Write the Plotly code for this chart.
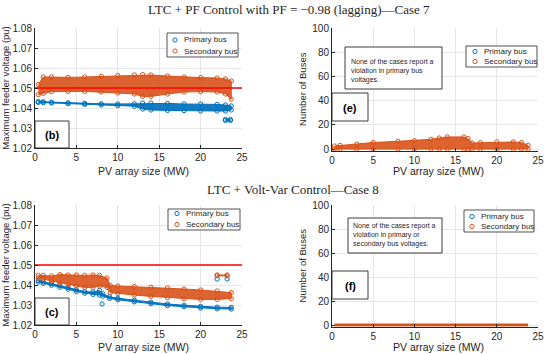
import plotly.graph_objects as go

W, H = 550, 354
BLUE = '#0072BD'
ORANGE = '#D95319'
BLUE_FILL = 'rgba(0,114,189,0.92)'
ORANGE_FILL = 'rgba(217,83,25,0.9)'
INK = '#262626'
GRID = '#e6e6e6'
SANS = 'Liberation Sans, Arial, sans-serif'
SERIF = 'Liberation Serif, Times New Roman, serif'

# ---------------- data ----------------
title_top = "LTC + PF Control with PF = −0.98 (lagging)—Case 7"
title_bottom = "LTC + Volt-Var Control—Case 8"
x_title = "PV array size (MW)"
volt_title = "Maximum feeder voltage (pu)"
bus_title = "Number of Buses"
series_names = ["Primary bus", "Secondary bus"]
panel_tags = ["(b)", "(e)", "(c)", "(f)"]
note_e = ["None of the cases report a", "violation in primary bus", "voltages."]
note_f = ["None of the cases report a", "violation in primary or", "secondary bus voltages."]

x_ticks = [0, 5, 10, 15, 20, 25]
volt_ticks = [1.02, 1.03, 1.04, 1.05, 1.06, 1.07, 1.08]
bus_ticks = [0, 20, 40, 60, 80, 100]

limit_x = [0, 25]
limit_pu = [1.05, 1.05]

# (b) Case 7 maximum voltages: envelope of point centres
x_b = [0.4, 1, 2, 4, 6, 8, 10, 12, 13, 14, 16, 18, 20, 22, 23, 23.7]
b_sec_hi = [1.0517, 1.0555, 1.0555, 1.0553, 1.0555, 1.0558, 1.0562, 1.0565, 1.0567, 1.0565, 1.0560, 1.0555, 1.0552, 1.0550, 1.0545, 1.0535]
b_sec_lo = [1.0467, 1.0473, 1.0482, 1.0483, 1.0483, 1.0480, 1.0475, 1.0470, 1.0458, 1.0458, 1.0470, 1.0480, 1.0482, 1.0480, 1.0470, 1.0445]
b_pri_hi = [1.0432, 1.0431, 1.0429, 1.0426, 1.0423, 1.0421, 1.0420, 1.0421, 1.0425, 1.0425, 1.0423, 1.0420, 1.0420, 1.0418, 1.0415, 1.0410]
b_pri_lo = [1.0428, 1.0427, 1.0425, 1.0421, 1.0418, 1.0415, 1.0412, 1.0409, 1.0395, 1.0390, 1.0388, 1.0387, 1.0385, 1.0385, 1.0385, 1.0390]
x_b_cluster = [23.0, 23.6]
b_pri_cluster_hi = [1.0342, 1.0342]
b_pri_cluster_lo = [1.0338, 1.0338]

# (c) Case 8 maximum voltages
x_c_pri = [0.4, 1, 2, 3, 4, 5, 6, 7, 7.8, 8.2, 9, 10, 12, 14, 16, 18, 20, 22, 23.7]
c_pri_hi = [1.0423, 1.0416, 1.0407, 1.0397, 1.0387, 1.0376, 1.0367, 1.0365, 1.0373, 1.0356, 1.0341, 1.0334, 1.0324, 1.0314, 1.0305, 1.0299, 1.0293, 1.0289, 1.0288]
c_pri_lo = [1.0415, 1.0408, 1.0399, 1.0389, 1.0379, 1.0368, 1.0359, 1.0353, 1.0350, 1.0344, 1.0333, 1.0326, 1.0316, 1.0306, 1.0297, 1.0291, 1.0285, 1.0281, 1.0280]
x_c_sec = [0.4, 1, 2, 3, 4, 5, 6, 7, 7.8, 8.7, 9.1, 10, 12, 14, 16, 18, 20, 22, 23.7]
c_sec_hi = [1.0448, 1.0448, 1.0445, 1.0452, 1.0450, 1.0450, 1.0448, 1.0450, 1.0448, 1.0435, 1.0398, 1.0395, 1.0392, 1.0388, 1.0385, 1.0380, 1.0375, 1.0370, 1.0362]
c_sec_lo = [1.0435, 1.0430, 1.0420, 1.0410, 1.0403, 1.0395, 1.0388, 1.0388, 1.0395, 1.0388, 1.0362, 1.0357, 1.0350, 1.0343, 1.0337, 1.0332, 1.0328, 1.0328, 1.0332]
x_c_outlier = [8.1]
c_pri_outlier = [1.0305]
x_c_cluster = [22.0, 23.2]
c_pri_cluster = [1.0430, 1.0430]
c_sec_cluster_hi = [1.0450, 1.0450]
c_sec_cluster_lo = [1.0446, 1.0446]

# (e) Case 7 number of buses in violation (secondary only)
x_e = [0.3, 1, 3, 5, 8, 10, 12, 13, 14, 16, 16.5, 17, 18, 20, 22, 23, 23.8]
e_sec_hi = [2.5, 3, 4, 5.4, 6.4, 6.9, 8, 9.1, 10, 10, 8.7, 5, 5.2, 5.9, 5.9, 5.3, 3.1]
e_sec_lo = [0] * len(x_e)

# (f) Case 8 number of buses in violation
x_f = [0.3, 23.8]
f_sec = [0, 0]


def px(x):
    return x / W


def py(y):
    return 1 - y / H


fig = go.Figure()

panels = {
    'b': dict(xa='x', ya='y', xd=(35, 242), yd=(28, 148)),
    'e': dict(xa='x2', ya='y2', xd=(332, 538), yd=(28, 150.5)),
    'c': dict(xa='x3', ya='y3', xd=(35, 242), yd=(205, 325)),
    'f': dict(xa='x4', ya='y4', xd=(332, 538), yd=(205, 326.5)),
}


def band(p, x, lo, hi, color, fillc, msize=4.3):
    xa, ya = panels[p]['xa'], panels[p]['ya']
    fig.add_trace(go.Scatter(x=x + x[::-1], y=hi + lo[::-1], mode='lines', fill='toself',
                             fillcolor=fillc, line=dict(color=color, width=1),
                             xaxis=xa, yaxis=ya, showlegend=False, hoverinfo='skip'))
    fig.add_trace(go.Scatter(x=x + x, y=hi + lo, mode='markers',
                             marker=dict(symbol='circle-open', size=msize, color=color,
                                         line=dict(width=1, color=color)),
                             xaxis=xa, yaxis=ya, showlegend=False, hoverinfo='skip',
                             cliponaxis=False))


def pts(p, x, y, color, msize=4.3):
    xa, ya = panels[p]['xa'], panels[p]['ya']
    fig.add_trace(go.Scatter(x=x, y=y, mode='markers',
                             marker=dict(symbol='circle-open', size=msize, color=color,
                                         line=dict(width=1, color=color)),
                             xaxis=xa, yaxis=ya, showlegend=False, hoverinfo='skip',
                             cliponaxis=False))


def limit(p):
    xa, ya = panels[p]['xa'], panels[p]['ya']
    fig.add_trace(go.Scatter(x=limit_x, y=limit_pu, mode='lines',
                             line=dict(color='#FF0000', width=1.6),
                             xaxis=xa, yaxis=ya, showlegend=False, hoverinfo='skip'))


# panel (b)
band('b', x_b, b_pri_lo, b_pri_hi, BLUE, BLUE_FILL)
band('b', x_b_cluster, b_pri_cluster_lo, b_pri_cluster_hi, BLUE, BLUE_FILL)
band('b', x_b, b_sec_lo, b_sec_hi, ORANGE, ORANGE_FILL)
limit('b')

# panel (e)
band('e', x_e, e_sec_lo, e_sec_hi, ORANGE, ORANGE_FILL)

# panel (c)
band('c', x_c_pri, c_pri_lo, c_pri_hi, BLUE, BLUE_FILL)
pts('c', x_c_outlier, c_pri_outlier, BLUE)
pts('c', x_c_cluster, c_pri_cluster, BLUE)
band('c', x_c_sec, c_sec_lo, c_sec_hi, ORANGE, ORANGE_FILL)
band('c', x_c_cluster, c_sec_cluster_lo, c_sec_cluster_hi, ORANGE, ORANGE_FILL)
limit('c')

# panel (f)
fig.add_trace(go.Scatter(x=x_f, y=f_sec, mode='lines', line=dict(color=ORANGE, width=3.2),
                         xaxis='x4', yaxis='y4', showlegend=False, hoverinfo='skip'))

axis_common = dict(showline=True, linecolor=INK, linewidth=1, ticks='inside', ticklen=3,
                   tickcolor=INK, showgrid=True, gridcolor=GRID, gridwidth=1, zeroline=False,
                   tickfont=dict(family=SANS, size=10, color=INK), mirror=False,
                   automargin=False)

layout = dict(width=W, height=H, margin=dict(l=0, r=0, t=0, b=0),
              paper_bgcolor='white', plot_bgcolor='white', showlegend=False)

names = {'b': ('xaxis', 'yaxis'), 'e': ('xaxis2', 'yaxis2'),
         'c': ('xaxis3', 'yaxis3'), 'f': ('xaxis4', 'yaxis4')}
for p, (xn, yn) in names.items():
    d = panels[p]
    xdom = [px(d['xd'][0]), px(d['xd'][1])]
    ydom = [py(d['yd'][1]), py(d['yd'][0])]
    layout[xn] = dict(axis_common, domain=xdom, range=[0, 25], tickvals=x_ticks,
                      anchor=d['ya'])
    ytitle = dict(font=dict(family=SANS, size=9.5, color=INK), standoff=3)
    if p in ('b', 'c'):
        layout[yn] = dict(axis_common, domain=ydom, range=[1.02, 1.08], tickvals=volt_ticks,
                          tickformat='.2f', anchor=d['xa'], title=dict(ytitle, text=volt_title))
    else:
        layout[yn] = dict(axis_common, domain=ydom, range=[-1.2, 100], tickvals=bus_ticks,
                          anchor=d['xa'], title=dict(ytitle, text=bus_title))
fig.update_layout(**layout)

shapes = []
annotations = []


def text(x, y, s, size, family=SANS, xanchor='center', yanchor='middle', bold=False,
         align='center'):
    annotations.append(dict(x=px(x), y=py(y), xref='paper', yref='paper', text=s,
                            showarrow=False, xanchor=xanchor, yanchor=yanchor,
                            align=align,
                            font=dict(family=family, size=size, color='black' if bold else INK)))


def rect(x0, y0, x1, y1, lw=0.9):
    shapes.append(dict(type='rect', xref='paper', yref='paper', x0=px(x0), x1=px(x1),
                       y0=py(y1), y1=py(y0), line=dict(color=INK, width=lw),
                       fillcolor='white'))


def circle(cx, cy, color, r=2.1):
    shapes.append(dict(type='circle', xref='paper', yref='paper', x0=px(cx - r), x1=px(cx + r),
                       y0=py(cy + r), y1=py(cy - r), line=dict(color=color, width=1)))


# titles
text(289, 9, title_top, 13, family=SERIF)
text(293, 189, title_bottom, 13, family=SERIF)

# x-axis titles
for (cx, cy) in [(143, 171), (438, 171), (143, 347), (438, 347)]:
    text(cx, cy, x_title, 10.5)


def legend(x0, y0, x1, y1, mx, tx, r1, r2):
    rect(x0, y0, x1, y1, lw=0.8)
    circle(mx, r1, BLUE)
    circle(mx, r2, ORANGE)
    text(tx, r1, series_names[0], 8, xanchor='left')
    text(tx, r2, series_names[1], 8, xanchor='left')


legend(167, 33, 238, 57, 175, 182, 40, 51)
legend(168, 209, 240, 230, 177, 184, 213.5, 224.5)
legend(466, 46, 537, 67, 475, 482, 51.5, 61.5)
legend(464, 210, 534, 232, 472, 479, 216.5, 226.5)

# panel tag boxes
for (x0, y0, x1, y1, tag) in [(35, 121, 69, 148, panel_tags[0]),
                              (332, 93, 368, 121, panel_tags[1]),
                              (35, 298, 69, 325, panel_tags[2]),
                              (332, 271, 368, 299, panel_tags[3])]:
    rect(x0, y0, x1, y1)
    text((x0 + x1) / 2, (y0 + y1) / 2 + 0.5, '<b>' + tag + '</b>', 11, bold=True)

# note boxes
rect(345, 47, 442, 89)
text(349, 56, '<br>'.join(note_e), 7, xanchor='left', yanchor='top', align='left')
rect(348, 218, 442, 253)
text(351, 220, '<br>'.join(note_f), 7, xanchor='left', yanchor='top', align='left')

fig.update_layout(shapes=shapes, annotations=annotations)
fig.write_html("out.html", config={'displayModeBar': False},
               post_script="document.body.style.margin='0';document.body.style.padding='0';")
